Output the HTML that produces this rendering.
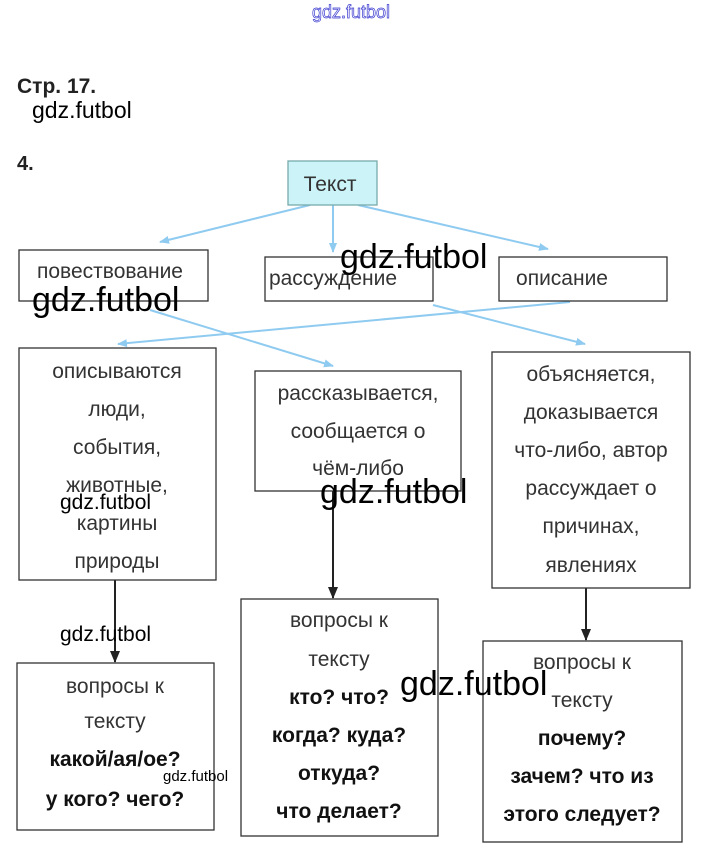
<!DOCTYPE html>
<html><head><meta charset="utf-8"><style>
html,body{margin:0;padding:0;background:#fff;}
body{width:702px;height:860px;overflow:hidden;position:relative;}
svg{position:absolute;left:0;top:0;}
.t{font-family:"Liberation Sans Narrow","Liberation Sans",sans-serif;font-size:21px;fill:#333;text-anchor:middle;}
.b{font-weight:bold;fill:#111;font-size:21px;}
.w{font-family:"Liberation Sans",sans-serif;fill:#000;}
</style></head><body>
<svg width="702" height="860" viewBox="0 0 702 860">
<defs>
<marker id="ab" markerWidth="10" markerHeight="10" refX="9" refY="5" orient="auto" markerUnits="userSpaceOnUse"><path d="M0,1 L10,5 L0,9 Z" fill="#8fcbf0"/></marker>
<marker id="ak" markerWidth="12" markerHeight="12" refX="11" refY="6" orient="auto" markerUnits="userSpaceOnUse"><path d="M0,1 L12,6 L0,11 Z" fill="#222"/></marker>
</defs>
<text x="312" y="18" font-family="Liberation Sans,sans-serif" font-size="18" fill="#fff" stroke="#3a3ad0" stroke-width="0.7">gdz.futbol</text>
<text x="17" y="93" font-family="Liberation Sans,sans-serif" font-size="21" font-weight="bold" fill="#222">Стр. 17.</text>
<text x="32" y="118" class="w" font-size="23">gdz.futbol</text>
<text x="17" y="170" font-family="Liberation Sans,sans-serif" font-size="20" font-weight="bold" fill="#222">4.</text>

<g stroke="#8fcbf0" stroke-width="2" fill="none">
<line x1="310" y1="205" x2="160" y2="242" marker-end="url(#ab)"/>
<line x1="333" y1="205" x2="333" y2="252" marker-end="url(#ab)"/>
<line x1="358" y1="205" x2="548" y2="249" marker-end="url(#ab)"/>
<line x1="150" y1="310" x2="333" y2="366" marker-end="url(#ab)"/>
<line x1="570" y1="302" x2="118" y2="344" marker-end="url(#ab)"/>
<line x1="433" y1="305" x2="585" y2="344" marker-end="url(#ab)"/>
</g>
<g stroke="#222" stroke-width="2">
<line x1="115" y1="580" x2="115" y2="662" marker-end="url(#ak)"/>
<line x1="333" y1="491" x2="333" y2="598" marker-end="url(#ak)"/>
<line x1="586" y1="588" x2="586" y2="640" marker-end="url(#ak)"/>
</g>

<g stroke="#333" stroke-width="1.3" fill="#fff">
<rect x="288" y="161" width="89" height="44" fill="#ccf4f8" stroke="#7aa"/>
<rect x="19" y="250" width="189" height="51"/>
<rect x="265" y="257" width="168" height="44"/>
<rect x="499" y="257" width="168" height="44"/>
<rect x="19" y="348" width="197" height="232"/>
<rect x="255" y="371" width="206" height="120"/>
<rect x="492" y="352" width="198" height="236"/>
<rect x="17" y="663" width="197" height="167"/>
<rect x="241" y="599" width="197" height="237"/>
<rect x="483" y="641" width="199" height="201"/>
</g>

<text class="t" x="330" y="191" font-size="22" fill="#222">Текст</text>
<text class="t" x="110" y="278">повествование</text>
<text class="t" x="333" y="285">рассуждение</text>
<text class="t" x="562" y="285">описание</text>

<g class="t">
<text x="117" y="378">описываются</text>
<text x="117" y="416">люди,</text>
<text x="117" y="454">события,</text>
<text x="117" y="492">животные,</text>
<text x="117" y="530">картины</text>
<text x="117" y="568">природы</text>

<text x="358" y="400">рассказывается,</text>
<text x="358" y="438">сообщается о</text>
<text x="358" y="475">чём-либо</text>

<text x="591" y="381">объясняется,</text>
<text x="591" y="419">доказывается</text>
<text x="591" y="457">что-либо, автор</text>
<text x="591" y="495">рассуждает о</text>
<text x="591" y="533">причинах,</text>
<text x="591" y="572">явлениях</text>

<text x="115" y="693">вопросы к</text>
<text x="115" y="728">тексту</text>
<text x="115" y="766" class="t b">какой/ая/ое?</text>
<text x="115" y="806" class="t b">у кого? чего?</text>

<text x="339" y="627">вопросы к</text>
<text x="339" y="666">тексту</text>
<text x="339" y="704" class="t b">кто? что?</text>
<text x="339" y="742" class="t b">когда? куда?</text>
<text x="339" y="780" class="t b">откуда?</text>
<text x="339" y="818" class="t b">что делает?</text>

<text x="582" y="669">вопросы к</text>
<text x="582" y="707">тексту</text>
<text x="582" y="745" class="t b">почему?</text>
<text x="582" y="783" class="t b">зачем? что из</text>
<text x="582" y="821" class="t b">этого следует?</text>
</g>

<text class="w" x="340" y="268" font-size="34">gdz.futbol</text>
<text class="w" x="32" y="311" font-size="34">gdz.futbol</text>
<text class="w" x="320" y="503" font-size="34">gdz.futbol</text>
<text class="w" x="400" y="695" font-size="34">gdz.futbol</text>
<text class="w" x="60" y="509" font-size="21">gdz.futbol</text>
<text class="w" x="60" y="641" font-size="21">gdz.futbol</text>
<text class="w" x="163" y="781" font-size="15">gdz.futbol</text>
</svg>
</body></html>
